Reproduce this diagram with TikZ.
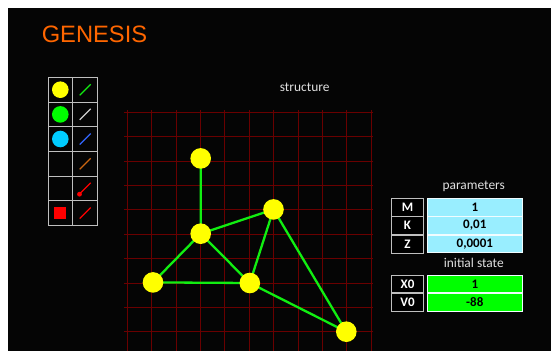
\documentclass[tikz,border=0pt]{standalone}
\usepackage{fontspec}
\setmainfont{Carlito}
\newfontfamily\titlefont{Liberation Sans}
\usetikzlibrary{positioning}
\definecolor{bg1}{HTML}{050505}
\definecolor{gridred}{HTML}{6A0000}
\definecolor{yellow1}{HTML}{FFFF00}
\definecolor{green1}{HTML}{11EE11}
\definecolor{lime1}{HTML}{00FF00}
\definecolor{cyan1}{HTML}{00CCFF}
\definecolor{blue1}{HTML}{3366FF}
\definecolor{orange1}{HTML}{FF6600}
\definecolor{brown1}{HTML}{CC6611}
\definecolor{param1}{HTML}{99EEFF}
\definecolor{frame1}{HTML}{BFBFBF}
\definecolor{text1}{HTML}{E0E0E0}

\begin{document}
\begin{tikzpicture}[x=1pt,y=-1pt,
    mass/.style={circle,fill=yellow1,inner sep=0pt,minimum size=20.6pt},
    spring/.style={green1,line width=2.3pt},
    keybox/.style={draw=frame1,line width=0.9pt,fill=black,text=white,font=\fontsize{13}{15}\selectfont\bfseries,minimum width=31.6pt,minimum height=17.6pt,inner sep=0pt},
    valbox/.style={draw=white!85!param1,line width=0.8pt,text=black,font=\fontsize{13}{15}\selectfont\bfseries,minimum width=95pt,minimum height=17.6pt,inner sep=0pt},
    caption/.style={text=text1,font=\fontsize{13.4}{15}\selectfont,anchor=base,inner sep=0pt}]
  \useasboundingbox (0,0) rectangle (551,351);
  \fill[white] (0,0) rectangle (551,351);
  \fill[bg1] (8,8) rectangle (551,351);
  \node[anchor=base west,inner sep=0pt,text=orange1,font=\titlefont\fontsize{23.7}{26}\selectfont] (title) at (41.6,42.7) {GENESIS};
  % legend
  \draw[frame1,line width=0.9pt] (48,77.3) rectangle (97.3,225.3) (72.7,77.3) -- (72.7,225.3);
  \foreach \r in {1,...,5} \draw[frame1,line width=0.9pt] (48,77.3+24.67*\r) -- (97.3,77.3+24.67*\r);
  \foreach \c [count=\r from 0] in {green1,white!80!black,blue1,brown1,red,red}
    \draw[\c,line width=1.2pt] (79.7,95.2+24.67*\r) -- (90.7,84.2+24.67*\r);
  \fill[yellow1] (60.3,89.7) circle (8.3);
  \fill[lime1] (60.3,114.4) circle (8.3);
  \fill[cyan1] (60.3,139) circle (8.3);
  \fill[red] (79.5,194.2) circle (2.4);
  \fill[red] (54.2,207.2) rectangle (66.2,219.2);
  % structure
  \node[caption] (structure) at (304.7,91.7) {structure};
  \foreach \i in {0,...,10} \draw[gridred,line width=0.9pt] (127.3+24.4*\i,110) -- (127.3+24.4*\i,351);
  \foreach \j in {0,...,9} \draw[gridred,line width=0.9pt] (124,112.3+24.4*\j) -- (373,112.3+24.4*\j);
  \coordinate (pa) at (200.7,158.4);
  \coordinate (pb) at (200.7,233.7);
  \coordinate (pc) at (273.5,209.4);
  \coordinate (pd) at (153,282.4);
  \coordinate (pe) at (249.8,283);
  \coordinate (pf) at (346.3,331.7);
  \draw[spring] (pa) -- (pb) (pb) -- (pc) (pb) -- (pd) (pb) -- (pe) (pd) -- (pe) (pc) -- (pe) (pc) -- (pf) (pe) -- (pf);
  \foreach \p in {a,b,c,d,e,f} \node[mass] (m\p) at (p\p) {};
  % parameters
  \node[caption] (partitle) at (473.7,189.3) {parameters};
  \node[keybox] (kM) at (407.5,207.2) {M};
  \node[keybox,below=0pt of kM] (kK) {K};
  \node[keybox,below=0pt of kK] (kZ) {Z};
  \node[valbox,fill=param1] (vM) at (474.8,207.2) {1};
  \node[valbox,fill=param1,below=0pt of vM] (vK) {0,01};
  \node[valbox,fill=param1,below=0pt of vK] (vZ) {0,0001};
  \node[caption] (inittitle) at (473.8,267) {initial state};
  \node[keybox] (kX) at (407.5,284) {X0};
  \node[keybox,below=0pt of kX] (kV) {V0};
  \node[valbox,fill=lime1] (vX) at (474.8,284) {1};
  \node[valbox,fill=lime1,below=0pt of vX] (vV) {-88};
\end{tikzpicture}
\end{document}
